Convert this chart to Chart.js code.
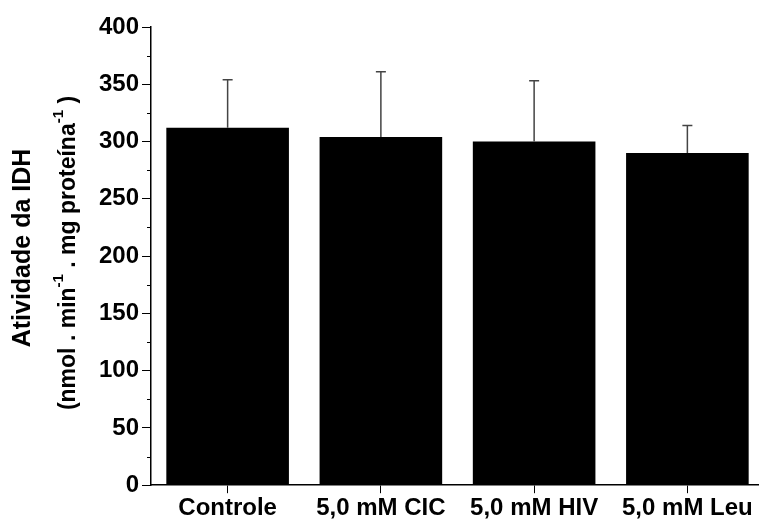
<!DOCTYPE html>
<html lang="pt">
<head>
  <meta charset="UTF-8" />
  <title>Atividade da IDH</title>
  <script src="https://cdn.jsdelivr.net/npm/chart.js"></script>
  <style>
    body { margin: 0; background: #fff; overflow: hidden; }
    .wrap { width: 764px; height: 524px; position: relative; }
  </style>
</head>
<body>
  <div class="wrap"><canvas id="idhChart"></canvas></div>

  <script>
    const grupos = ['Controle', '5,0 mM CIC', '5,0 mM HIV', '5,0 mM Leu'];
    const medias = [312, 304, 300, 290];
    const desvios = [42, 57, 53, 24];
    const yTicks = [0, 50, 100, 150, 200, 250, 300, 350, 400];
    const yMinor = [25, 75, 125, 175, 225, 275, 325, 375];

    const FONT = "'Liberation Sans', Arial, sans-serif";

    // Fehlerbalken nur nach oben
    const errorBars = {
      id: 'errorBars',
      afterDatasetsDraw(chart) {
        const ctx = chart.ctx;
        const y = chart.scales.y;
        const meta = chart.getDatasetMeta(0);
        ctx.save();
        ctx.strokeStyle = '#444';
        ctx.lineWidth = 1.5;
        meta.data.forEach((bar, i) => {
          const yBar = y.getPixelForValue(medias[i]);
          const yTop = y.getPixelForValue(medias[i] + desvios[i]);
          ctx.beginPath();
          ctx.moveTo(bar.x, yBar);
          ctx.lineTo(bar.x, yTop);
          ctx.moveTo(bar.x - 5, yTop);
          ctx.lineTo(bar.x + 5, yTop);
          ctx.stroke();
        });
        ctx.restore();
      }
    };

    // kleine Ticks + Achsentitel mit Hochzahlen
    const extras = {
      id: 'extras',
      afterDraw(chart) {
        const ctx = chart.ctx;
        const y = chart.scales.y;
        const left = chart.chartArea.left;
        ctx.save();
        ctx.strokeStyle = '#000';
        ctx.lineWidth = 1;
        yMinor.forEach(v => {
          const py = Math.round(y.getPixelForValue(v)) + 0.5;
          ctx.beginPath();
          ctx.moveTo(left - 4, py);
          ctx.lineTo(left, py);
          ctx.stroke();
        });

        ctx.fillStyle = '#000';
        ctx.textBaseline = 'middle';
        const small = 'bold 15px ' + FONT;

        // Zeile 1
        ctx.save();
        ctx.translate(23, 248);
        ctx.rotate(-Math.PI / 2);
        ctx.font = 'bold 25px ' + FONT;
        ctx.textAlign = 'center';
        ctx.fillText('Atividade da IDH', 0, 0);
        ctx.restore();

        // Zeile 2
        const big = 'bold 23px ' + FONT;
        const parts = [
          ['(nmol . min', false], ['-1', true], [' . mg proteína', false], ['-1', true], [' )', false]
        ];
        ctx.save();
        ctx.translate(69, 253);
        ctx.rotate(-Math.PI / 2);
        ctx.textAlign = 'left';
        let total = 0;
        parts.forEach(p => { ctx.font = p[1] ? small : big; total += ctx.measureText(p[0]).width; });
        let x = -total / 2;
        parts.forEach(p => {
          ctx.font = p[1] ? small : big;
          ctx.fillText(p[0], x, p[1] ? -10 : 0);
          x += ctx.measureText(p[0]).width;
        });
        ctx.restore();
        ctx.restore();
      }
    };

    new Chart(document.getElementById('idhChart'), {
      type: 'bar',
      data: {
        labels: grupos,
        datasets: [{
          data: medias,
          backgroundColor: '#000',
          borderWidth: 0,
          barPercentage: 0.8,
          categoryPercentage: 1.0
        }]
      },
      options: {
        responsive: true,
        maintainAspectRatio: false,
        animation: false,
        events: [],
        layout: { padding: { top: 27, right: 0, bottom: 0, left: 0 } },
        plugins: { legend: { display: false }, tooltip: { enabled: false } },
        scales: {
          x: {
            border: { display: true, color: '#000', width: 1.5 },
            grid: { display: true, drawOnChartArea: false, offset: false, tickLength: 8, color: '#000', tickWidth: 1 },
            ticks: { color: '#000', padding: 1, maxRotation: 0, font: { family: FONT, size: 24, weight: 'bold' } }
          },
          y: {
            min: 0,
            max: 400,
            afterBuildTicks: s => { s.ticks = yTicks.map(v => ({ value: v })); },
            afterFit: s => { s.width = 151; },
            border: { display: true, color: '#000', width: 1.5 },
            grid: { display: true, drawOnChartArea: false, tickLength: 9, color: '#000', tickWidth: 1 },
            ticks: { color: '#000', padding: 3, font: { family: FONT, size: 24, weight: 'bold' } }
          }
        }
      },
      plugins: [errorBars, extras]
    });
  </script>
</body>
</html>
